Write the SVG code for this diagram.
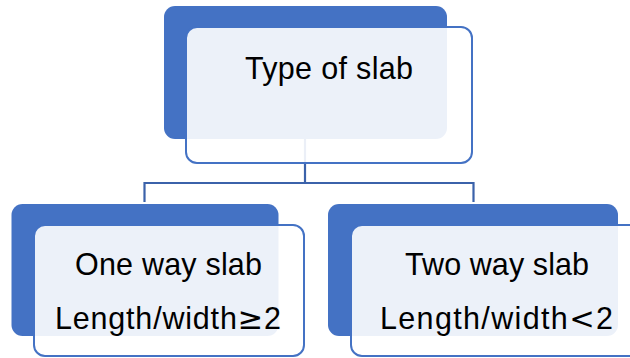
<svg xmlns="http://www.w3.org/2000/svg" width="630" height="358" viewBox="0 0 630 358">
  <style>
    .back { fill: #4472C4; }
    .front { fill: #FFFFFF; fill-opacity: 0.9; stroke: #4472C4; stroke-width: 2; }
    .link { fill: none; stroke: #3B62AA; stroke-width: 2.2; }
    .label { font-family: "Liberation Sans", Arial, sans-serif; font-size: 30.5px; fill: #000000; text-anchor: middle; }
    .sym { font-family: "DejaVu Sans", sans-serif; }
  </style>
  <rect width="630" height="358" fill="#FFFFFF"/>

  <!-- back plates -->
  <rect class="back" x="164" y="6" width="283" height="133" rx="11"/>
  <rect class="back" x="11.5" y="204" width="267" height="132" rx="11"/>
  <rect class="back" x="328" y="204" width="290" height="132" rx="11"/>

  <!-- connectors -->
  <g id="connectors">
    <path class="link" d="M305,139 V183 M144.5,202 V183 H473.5 V202"/>
  </g>

  <g id="node-type">
    <rect class="front" x="186" y="27" width="286" height="136" rx="11"/>
    <text class="label" x="329" y="79" textLength="168">Type of slab</text>
  </g>

  <g id="node-one-way">
    <rect class="front" x="34" y="225" width="270" height="131" rx="11"/>
    <text class="label" x="168.5" y="275" textLength="187">One way slab</text>
    <text class="label" x="168" y="329" textLength="226">Length/width<tspan class="sym">≥</tspan>2</text>
  </g>

  <g id="node-two-way">
    <rect class="front" x="351" y="225" width="300" height="131" rx="11"/>
    <text class="label" x="497" y="275" textLength="184">Two way slab</text>
    <text class="label" x="496.5" y="329" textLength="233">Length/width<tspan class="sym">&lt;</tspan>2</text>
  </g>
</svg>
